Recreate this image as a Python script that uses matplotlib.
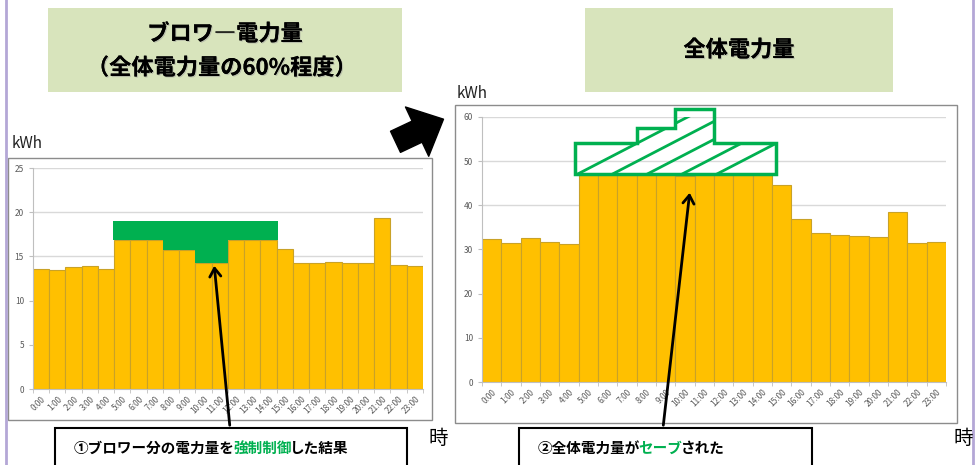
import numpy as np
import matplotlib.pyplot as plt
import matplotlib.patheffects as pe
from matplotlib.patches import Rectangle, Polygon, FancyArrowPatch
from matplotlib.text import Annotation

plt.rcParams['font.family'] = ['Noto Sans CJK JP', 'DejaVu Sans']

W, H = 978, 465

hours = [f"{h}:00" for h in range(24)]
blower_kwh = [13.6, 13.5, 13.8, 13.9, 13.6, 16.8, 16.8, 16.8, 15.7, 15.7, 14.3, 14.3,
              16.8, 16.8, 16.8, 15.8, 14.2, 14.3, 14.4, 14.2, 14.3, 19.4, 14.0, 13.9]
blower_before = 19.0          # level before forced control
total_kwh = [32.3, 31.5, 32.5, 31.6, 31.3, 47.0, 47.0, 47.0, 47.0, 47.0, 46.7, 47.0,
             47.0, 47.0, 47.0, 44.6, 37.0, 33.7, 33.3, 33.1, 32.9, 38.5, 31.5, 31.7]
ctrl_hours = list(range(5, 15))
saved_top = [54.0, 54.0, 54.0, 57.5, 57.5, 61.8, 61.8, 54.0, 54.0, 54.0]
saved_base = 47.2

BAR = '#FFC000'
BAR_EDGE = '#C9A227'
GREEN = '#00B050'
TITLE_BG = '#D8E4BC'


def box(x0, y0, x1, y1):
    # pixel box (top-left origin) -> figure rect
    return [x0 / W, 1 - y1 / H, (x1 - x0) / W, (y1 - y0) / H]


def fp(x, y):
    return (x / W, 1 - y / H)


def add_rect(x0, y0, x1, y1, **kw):
    r = box(x0, y0, x1, y1)
    fig.add_artist(Rectangle(r[:2], r[2], r[3], transform=fig.transFigure, **kw))


def step_edge(idx, vals, pad=0.0):
    pts = []
    for i, v in zip(idx, vals):
        pts.append((i - 0.5, v))
        pts.append((i + 0.5, v))
    pts[0] = (pts[0][0] - pad, pts[0][1])
    pts[-1] = (pts[-1][0] + pad, pts[-1][1])
    return pts


def style_axes(ax, ymax, ystep):
    ax.set_xlim(-0.5, 23.5)
    ax.set_ylim(0, ymax)
    ax.set_yticks(range(0, ymax + 1, ystep))
    ax.set_xticks(range(24))
    ax.set_xticklabels(hours, rotation=45, ha='right', rotation_mode='anchor',
                       fontsize=6, color='#595959')
    ax.set_xticks([i - 0.5 for i in range(25)], minor=True)
    ax.tick_params(axis='x', which='major', length=0, pad=4)
    ax.tick_params(axis='x', which='minor', length=3, color='#bfbfbf')
    ax.tick_params(axis='y', labelsize=6, colors='#595959', length=3)
    ax.tick_params(axis='y', color='#bfbfbf')
    ax.grid(axis='y', color='#d9d9d9', linewidth=1)
    ax.set_axisbelow(True)
    for s in ('top', 'right'):
        ax.spines[s].set_visible(False)
    ax.spines['left'].set_color('#bfbfbf')
    ax.spines['bottom'].set_color('#bfbfbf')


fig = plt.figure(figsize=(W / 100, H / 100), dpi=100)

# outer frame lines
fig.add_artist(plt.Line2D([6 / W, 6 / W], [0, 1], color='#B4A7D6', lw=2))
fig.add_artist(plt.Line2D([973 / W, 973 / W], [0, 1], color='#B4A7D6', lw=2))

# chart frames
add_rect(8, 158, 432, 420, fill=False, edgecolor='#8c8c8c', lw=1)
add_rect(455, 105, 957, 423, fill=False, edgecolor='#8c8c8c', lw=1)

# left chart: blower energy
ax1 = fig.add_axes(box(33, 168, 423, 389))
ax1.bar(range(24), blower_kwh, width=1.0, color=BAR, edgecolor=BAR_EDGE, linewidth=0.8)
style_axes(ax1, 25, 5)
top_edge = step_edge(ctrl_hours, [blower_before] * len(ctrl_hours), pad=0.1)
bottom_edge = step_edge(ctrl_hours, [blower_kwh[i] for i in ctrl_hours], pad=0.1)
ax1.add_patch(Polygon(top_edge + bottom_edge[::-1], closed=True,
                      facecolor=GREEN, edgecolor='none', zorder=3))

# right chart: total energy
ax2 = fig.add_axes(box(482, 117, 946, 382))
ax2.bar(range(24), total_kwh, width=1.0, color=BAR, edgecolor=BAR_EDGE, linewidth=0.8)
style_axes(ax2, 60, 10)
saved_edge = step_edge(ctrl_hours, saved_top, pad=0.2)
saved_poly = saved_edge + [(saved_edge[-1][0], saved_base), (saved_edge[0][0], saved_base)]
ax2.add_patch(Polygon(saved_poly, closed=True, fill=False, edgecolor=GREEN,
                      linewidth=2.5, zorder=4, clip_on=False))
# sparse diagonal hatching, clipped to the outline
clip = Polygon(saved_poly, closed=True, transform=ax2.transData, visible=False)
ax2.add_patch(clip)
slope = 2.27
hatch_step = 1.8
for k in range(5):
    x_start = saved_edge[0][0] + 0.2 + k * hatch_step
    ln, = ax2.plot([x_start, x_start + 8], [saved_base, saved_base + 8 * slope],
                   color=GREEN, lw=2, zorder=4)
    ln.set_clip_path(clip)

# unit labels
fig.text(*fp(12, 143), 'kWh', fontsize=11, va='center', ha='left', color='#222222')
fig.text(*fp(457, 93), 'kWh', fontsize=11, va='center', ha='left', color='#222222')
fig.text(*fp(438, 438), '時', fontsize=14, va='center', ha='center')
fig.text(*fp(963, 438), '時', fontsize=14, va='center', ha='center')

# title boxes
shadow = [pe.withSimplePatchShadow(offset=(0.8, -0.8), shadow_rgbFace='#999999', alpha=0.5),
          pe.Normal()]
add_rect(48, 8, 402, 92, facecolor=TITLE_BG, edgecolor='none')
add_rect(585, 8, 893, 92, facecolor=TITLE_BG, edgecolor='none')
fig.text(*fp(225, 34), 'ブロワ―電力量', fontsize=16, fontweight='bold',
         ha='center', va='center', path_effects=shadow)
fig.text(*fp(222, 68), '（全体電力量の60%程度）', fontsize=16, fontweight='bold',
         ha='center', va='center', path_effects=shadow)
fig.text(*fp(739, 50), '全体電力量', fontsize=16, fontweight='bold',
         ha='center', va='center', path_effects=shadow)

# big arrow between charts
fig.add_artist(FancyArrowPatch(fp(393, 143), fp(446, 118), transform=fig.transFigure,
                               arrowstyle='simple,head_width=2.8,head_length=1.5,tail_width=1.2',
                               mutation_scale=14, color='black', zorder=5))

# annotation boxes
add_rect(55, 428, 407, 475, facecolor='white', edgecolor='black', lw=1.5, zorder=4)
add_rect(519, 428, 812, 475, facecolor='white', edgecolor='black', lw=1.5, zorder=4)

# thin arrows
for tail, head in (((230, 428), (214, 263)), ((663, 428), (690, 190))):
    fig.add_artist(FancyArrowPatch(fp(*tail), fp(*head), transform=fig.transFigure,
                                   arrowstyle='->,head_length=6,head_width=4',
                                   mutation_scale=1, lw=2, color='black', zorder=6))


def rich_text(x, y, parts):
    prev = None
    for txt, col in parts:
        kw = dict(fontsize=10.5, fontweight='bold', color=col, va='center', ha='left')
        if prev is None:
            prev = fig.text(*fp(x, y), txt, zorder=7, **kw)
        else:
            prev = Annotation(txt, xy=(1, 0.5), xycoords=prev, xytext=(-1.2, 0),
                              textcoords='offset points', annotation_clip=False, **kw)
            prev.set_zorder(7)
            fig.add_artist(prev)


rich_text(74, 448, [('①ブロワー分の電力量を', 'black'), ('強制制御', GREEN), ('した結果', 'black')])
rich_text(538, 448, [('②全体電力量が', 'black'), ('セーブ', GREEN), ('された', 'black')])

fig.savefig('out.png', dpi=100)
